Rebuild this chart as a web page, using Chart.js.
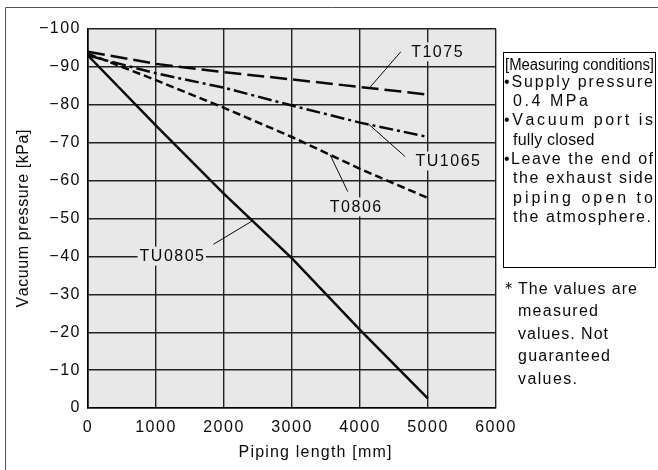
<!DOCTYPE html>
<html>
<head>
<meta charset="utf-8">
<title>Vacuum pressure vs piping length</title>
<script src="https://cdn.jsdelivr.net/npm/chart.js@4.4.1/dist/chart.umd.min.js"></script>
<style>
  html, body { margin: 0; padding: 0; background: #fff; }
  #wrap { position: relative; width: 658px; height: 470px; }
</style>
</head>
<body>
<div id="wrap"><canvas id="chart" width="658" height="470"></canvas></div>
<script>
// piping length [mm]
const lengths = [0, 1000, 2000, 3000, 4000, 5000];
// vacuum pressure [kPa] per ejector
const t1075  = [-94, -90.8, -88.6, -86.7, -84.7, -82.7];
const tu1065 = [-93, -88.3, -84.5, -79.8, -75.3, -71.5];
const t0806  = [-93.5, -86.5, -79.2, -71.5, -63.1, -55.4];
const tu0805 = [-93, -74.5, -56.5, -39.5, -20.6, -2.5];

const xTicks = [0, 1000, 2000, 3000, 4000, 5000, 6000];
const yTicks = [0, -10, -20, -30, -40, -50, -60, -70, -80, -90, -100];

const xTitle = 'Piping length [mm]';
const yTitle = 'Vacuum pressure [kPa]';
const conditionsTitle = '[Measuring conditions]';
const conditionsLines = ['•Supply pressure', '0.4 MPa', '•Vacuum port is', 'fully closed',
  '•Leave the end of', 'the exhaust side', 'piping open to', 'the atmosphere.'];
const footnoteLines = ['The values are', 'measured', 'values. Not', 'guaranteed', 'values.'];

const FONT = '"Liberation Sans", Arial, Helvetica, sans-serif';
const INK = '#0a0a0a';
const PLOT_BG = '#e8e8e8';

// line labels with leader lines, in data units
const notes = [
  { text: 'T1075',  at: [5130, -94.1], from: [4600, -94.0], to: [4137, -84.4] },
  { text: 'TU1065', at: [5290, -65.3], from: [4660, -66.4], to: [4132, -74.8] },
  { text: 'T0806',  at: [3934, -53.2], from: [3820, -57.1], to: [3560, -66.8] },
  { text: 'TU0805', at: [1232, -40.2], from: [1845, -43.2], to: [2410, -49.3] },
];

function toPts(ys) {
  return lengths.map((x, i) => ({ x: x, y: ys[i] }));
}

function minus(v) {
  return v === 0 ? '0' : (v < 0 ? '\u2212' : '') + Math.abs(v);
}

// draw text char by char, stretched to width (or with a fixed gap)
function spaced(ctx, text, x, y, width, gap) {
  const chars = [...text];
  const natural = chars.reduce((s, c) => s + ctx.measureText(c).width, 0);
  let g = width != null ? (width - natural) / (chars.length - 1) : gap;
  if (g < 0.2) g = 0.2;
  let cx = x;
  chars.forEach(c => { ctx.fillText(c, cx, y); cx += ctx.measureText(c).width + g; });
}

function spacedWidth(ctx, text, gap) {
  const chars = [...text];
  return chars.reduce((s, c) => s + ctx.measureText(c).width, 0) + gap * (chars.length - 1);
}

const decor = {
  id: 'decor',
  beforeLayout(chart) { chart.ctx.letterSpacing = '1.5px'; },
  beforeDraw(chart) {
    const { ctx, chartArea: a } = chart;
    ctx.save();
    ctx.fillStyle = '#fff';
    ctx.fillRect(0, 0, chart.width, chart.height);
    ctx.fillStyle = PLOT_BG;
    ctx.fillRect(a.left, a.top, a.right - a.left, a.bottom - a.top);
    ctx.restore();
    ctx.letterSpacing = '1.5px';
  },
  afterDraw(chart) {
    const { ctx, scales: { x, y } } = chart;
    ctx.save();
    ctx.letterSpacing = '0px';
    ctx.fillStyle = INK;
    ctx.strokeStyle = INK;
    ctx.font = '16px ' + FONT;

    // outer frame (left and top edges only visible)
    ctx.strokeStyle = '#555';
    ctx.lineWidth = 1;
    ctx.beginPath();
    ctx.moveTo(5.5, chart.height);
    ctx.lineTo(5.5, 7.5);
    ctx.lineTo(chart.width, 7.5);
    ctx.stroke();

    // line labels
    ctx.strokeStyle = INK;
    ctx.textBaseline = 'middle';
    notes.forEach(n => {
      const w = spacedWidth(ctx, n.text, 1.5);
      const cx = x.getPixelForValue(n.at[0]);
      const cy = y.getPixelForValue(n.at[1]);
      ctx.fillStyle = PLOT_BG;
      ctx.fillRect(cx - w / 2 - 2, cy - 9, w + 4, 19);
      ctx.beginPath();
      ctx.moveTo(x.getPixelForValue(n.from[0]), y.getPixelForValue(n.from[1]));
      ctx.lineTo(x.getPixelForValue(n.to[0]), y.getPixelForValue(n.to[1]));
      ctx.lineWidth = 1;
      ctx.stroke();
      ctx.fillStyle = INK;
      spaced(ctx, n.text, cx - w / 2, cy + 1, null, 1.5);
    });

    // axis titles
    ctx.textBaseline = 'alphabetic';
    spaced(ctx, xTitle, 238.5, 456.5, 153);
    ctx.save();
    ctx.translate(27.5, 218.5);
    ctx.rotate(-Math.PI / 2);
    spaced(ctx, yTitle, -89, 0, 178);
    ctx.restore();

    // measuring conditions box
    ctx.fillStyle = '#fff';
    ctx.fillRect(503.5, 52.5, 152, 215);
    ctx.strokeStyle = '#000';
    ctx.lineWidth = 1;
    ctx.strokeRect(503.5, 52.5, 152, 215);
    ctx.fillStyle = INK;
    ctx.fillText(conditionsTitle, 505, 70, 149);
    const rightEdges = [653, 588, 653, 588, 653, 653, 653, 651];
    conditionsLines.forEach((t, i) => {
      const x0 = t.startsWith('•') ? 504 : 513;
      spaced(ctx, t, x0, 86.7 + i * 19.3, rightEdges[i] - x0);
    });

    // footnote
    const noteEdges = [637, 598, 608, 610, 577];
    ctx.font = '11px ' + FONT;
    ctx.fillText('\u2217', 504, 289);
    ctx.font = '16px ' + FONT;
    footnoteLines.forEach((t, i) => {
      spaced(ctx, t, 518, 293.5 + i * 22.5, noteEdges[i] - 518);
    });
    ctx.restore();
  }
};

const lineStyle = { borderColor: INK, borderWidth: 2.5, pointRadius: 0, fill: false, borderCapStyle: 'butt', tension: 0 };

new Chart(document.getElementById('chart'), {
  type: 'line',
  data: {
    datasets: [
      { label: 'T1075',  data: toPts(t1075),  borderDash: [17, 6], ...lineStyle },
      { label: 'TU1065', data: toPts(tu1065), borderDash: [14, 4, 3, 4], ...lineStyle },
      { label: 'T0806',  data: toPts(t0806),  borderDash: [8, 4], ...lineStyle },
      { label: 'TU0805', data: toPts(tu0805), ...lineStyle },
    ]
  },
  options: {
    responsive: false,
    animation: false,
    events: [],
    layout: { padding: { top: 29, right: 162, left: 0, bottom: 0 } },
    plugins: { legend: { display: false }, tooltip: { enabled: false } },
    scales: {
      x: {
        type: 'linear', min: 0, max: 6000,
        afterBuildTicks: s => { s.ticks = xTicks.map(v => ({ value: v })); },
        afterFit: s => { s.height = 62; },
        grid: { color: '#222', lineWidth: 1.4, drawTicks: false },
        border: { color: '#000', width: 1.6 },
        ticks: { color: INK, font: { family: FONT, size: 16 }, padding: 10, maxRotation: 0, autoSkip: false, callback: v => String(v) }
      },
      y: {
        type: 'linear', min: -100, max: 0, reverse: true,
        afterBuildTicks: s => { s.ticks = yTicks.map(v => ({ value: v })); },
        afterFit: s => { s.width = 88; },
        grid: { color: '#222', lineWidth: 1.4, drawTicks: false },
        border: { color: '#000', width: 1.6 },
        ticks: { color: INK, font: { family: FONT, size: 16 }, padding: 7, autoSkip: false, callback: v => minus(v) }
      }
    }
  },
  plugins: [decor]
});
</script>
</body>
</html>
